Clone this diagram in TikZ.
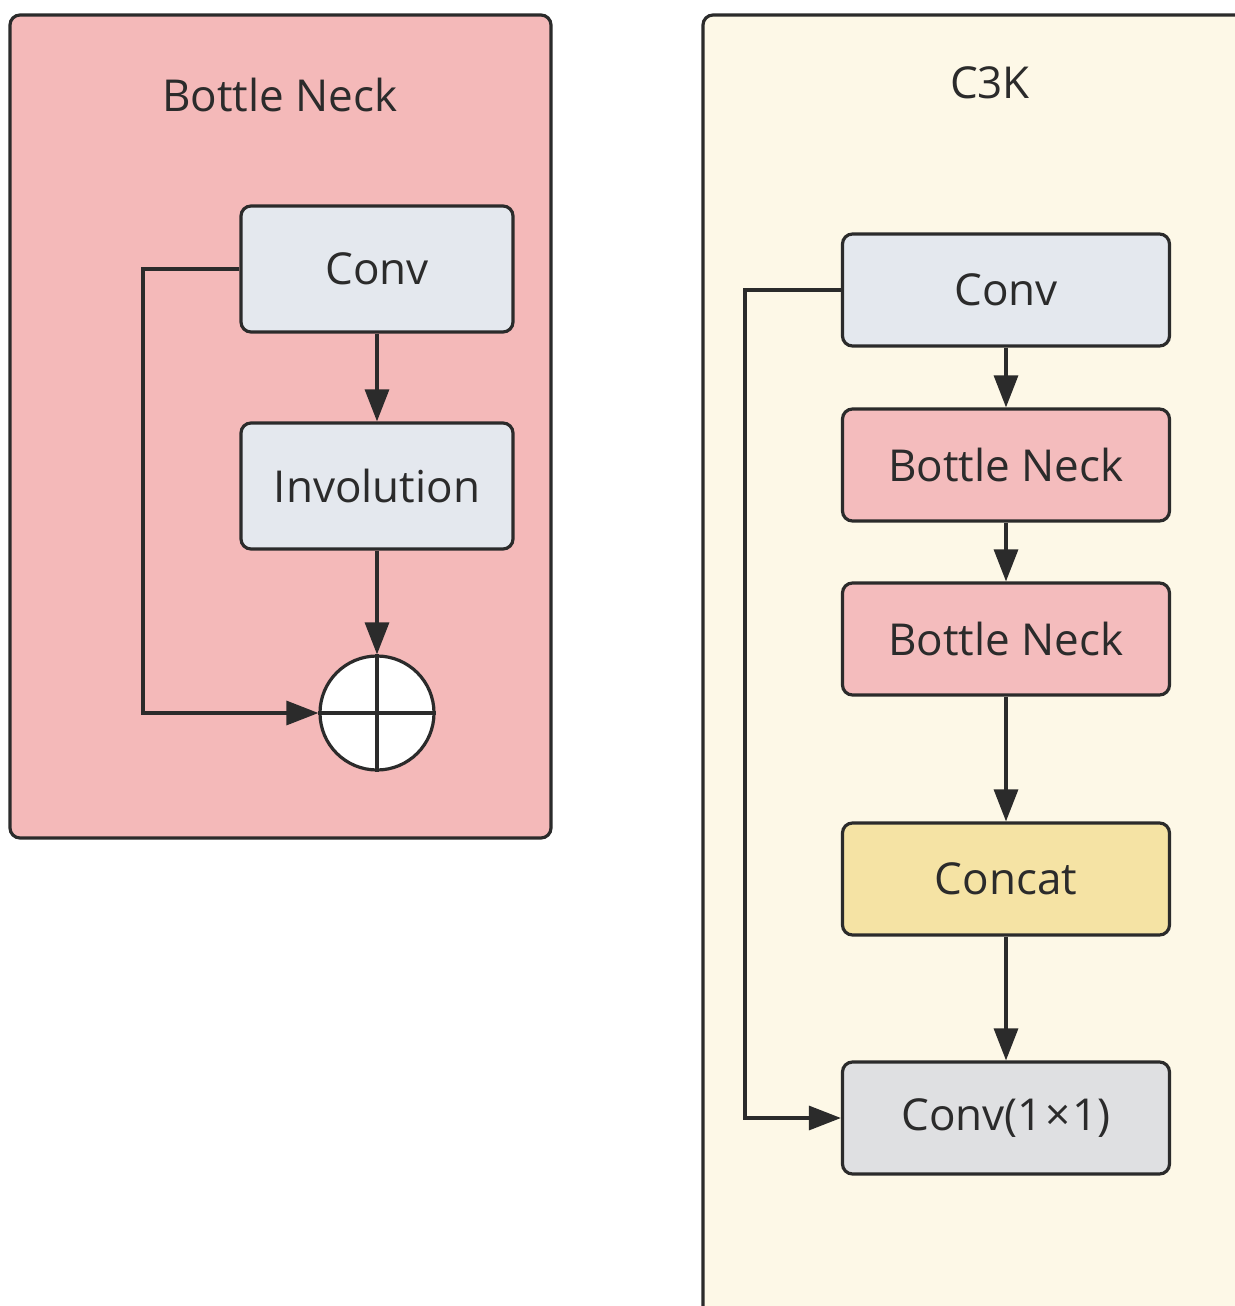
\documentclass[tikz,border=0pt]{standalone}
\usepackage{fontspec}
\setmainfont{Open Sans}
\usetikzlibrary{arrows.meta}

\definecolor{linegray}{HTML}{2B2B2B}
\definecolor{panelpink}{HTML}{F4B9B9}
\definecolor{panelcream}{HTML}{FDF8E7}
\definecolor{convblue}{HTML}{E4E8EE}
\definecolor{neckpink}{HTML}{F4BCBD}
\definecolor{concatyellow}{HTML}{F5E3A4}
\definecolor{onegray}{HTML}{DFE0E2}

\tikzset{
  panel/.style={draw=linegray, line width=3.2pt, rounded corners=10pt},
  block/.style={draw=linegray, line width=3.2pt, rounded corners=10pt,
    inner sep=0pt, font=\fontsize{44}{52}\selectfont, text=linegray},
  leftblock/.style={block, minimum width=272pt, minimum height=126pt},
  rightblock/.style={block, minimum width=327pt, minimum height=112pt},
  flow/.style={draw=linegray, line width=3.2pt,
    -{Triangle[length=32pt,width=24pt]}},
  title/.style={font=\fontsize{44}{52}\selectfont, text=linegray}
}

\begin{document}
\begin{tikzpicture}[x=1pt, y=-1pt]
\useasboundingbox (0,0) rectangle (1234,1306);
\fill[white] (0,0) rectangle (1234,1306);
% left panel: bottle neck
\draw[panel, fill=panelpink] (10,15) rectangle (551,838);
\node[title] (bntitle) at (280,95) {Bottle Neck};
\node[leftblock, fill=convblue] (bnconv) at (377,269) {Conv};
\node[leftblock, fill=convblue] (bninv) at (377,486) {Involution};
\node[circle, draw=linegray, line width=3.2pt, fill=white, minimum size=114pt, inner sep=0pt] (bnadd) at (377,713) {};
\draw[linegray, line width=3.2pt] (bnadd.north) -- (bnadd.south);
\draw[linegray, line width=3.2pt] (bnadd.west) -- (bnadd.east);
\coordinate (bnskip) at (143,269);
\draw[flow] (bnconv) -- (bninv);
\draw[flow] (bninv) -- (bnadd);
\draw[flow] (bnconv.west) -- (bnskip) |- (bnadd.west);
% right panel: c3k
\draw[panel, fill=panelcream] (703,15) rectangle (1260,1340);
\node[title] (cktitle) at (990,83) {C3K};
\node[rightblock, fill=convblue] (ckconv) at (1006,290) {Conv};
\node[rightblock, fill=neckpink] (ckneckA) at (1006,465) {Bottle Neck};
\node[rightblock, fill=neckpink] (ckneckB) at (1006,639) {Bottle Neck};
\node[rightblock, fill=concatyellow] (ckcat) at (1006,879) {Concat};
\node[rightblock, fill=onegray] (ckout) at (1006,1118) {Conv(1\kern2pt×\kern2pt1)};
\coordinate (ckskip) at (745,290);
\draw[flow] (ckconv) -- (ckneckA);
\draw[flow] (ckneckA) -- (ckneckB);
\draw[flow] (ckneckB) -- (ckcat);
\draw[flow] (ckcat) -- (ckout);
\draw[flow] (ckconv.west) -- (ckskip) |- (ckout.west);
\end{tikzpicture}
\end{document}
